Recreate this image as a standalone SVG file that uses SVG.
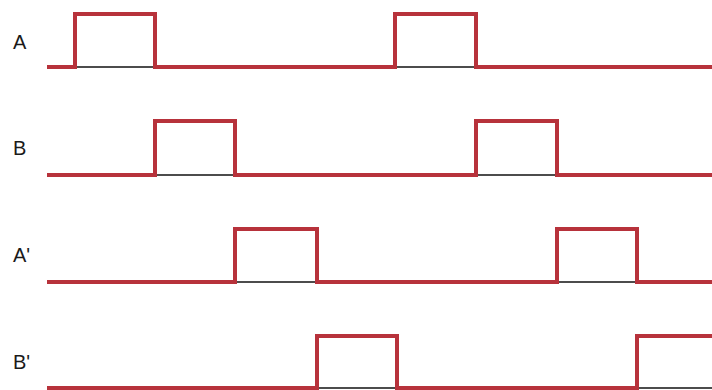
<svg xmlns="http://www.w3.org/2000/svg" width="712" height="390" viewBox="0 0 712 390">
<style>
.sig{fill:none;stroke:#b7323b;stroke-width:4;stroke-linejoin:miter}
.gnd{stroke:#111;stroke-width:1.5}
.lbl{font-family:"Liberation Sans",Arial,sans-serif;font-size:20px;fill:#1a1a1a}
</style>
<rect width="712" height="390" fill="#fff"/>
<g id="A">
<text class="lbl" x="13" y="49">A</text>
<line class="gnd" x1="75" y1="67" x2="155" y2="67"/>
<line class="gnd" x1="395" y1="67" x2="476" y2="67"/>
<path class="sig" d="M47,67 H75 V14 H155 V67 H395 V14 H476 V67 H712"/>
</g>
<g id="B">
<text class="lbl" x="13" y="155">B</text>
<line class="gnd" x1="155" y1="175" x2="235" y2="175"/>
<line class="gnd" x1="476" y1="175" x2="557" y2="175"/>
<path class="sig" d="M47,175 H155 V121 H235 V175 H476 V121 H557 V175 H712"/>
</g>
<g id="A_prime">
<text class="lbl" x="13" y="262">A'</text>
<line class="gnd" x1="235" y1="282" x2="317" y2="282"/>
<line class="gnd" x1="557" y1="282" x2="637" y2="282"/>
<path class="sig" d="M47,282 H235 V229 H317 V282 H557 V229 H637 V282 H712"/>
</g>
<g id="B_prime">
<text class="lbl" x="13" y="369">B'</text>
<line class="gnd" x1="317" y1="388" x2="397" y2="388"/>
<line class="gnd" x1="637" y1="388" x2="712" y2="388"/>
<path class="sig" d="M47,388 H317 V336 H397 V388 H637 V336 H712"/>
</g>
</svg>
